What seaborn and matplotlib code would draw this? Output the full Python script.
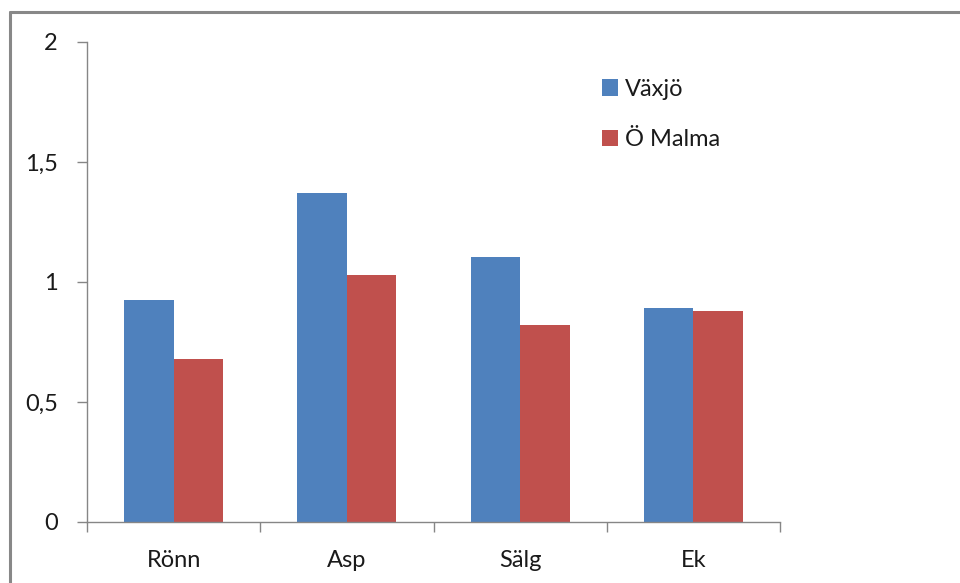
import matplotlib
matplotlib.use("Agg")
import matplotlib.pyplot as plt
import seaborn as sns
import pandas as pd
from matplotlib.lines import Line2D
from matplotlib.ticker import FuncFormatter

categories = ["Rönn", "Asp", "Sälg", "Ek"]
series_names = ["Växjö", "Ö Malma"]
vaxjo = [0.925, 1.37, 1.105, 0.89]
ostra_malma = [0.68, 1.03, 0.82, 0.88]
y_ticks = [0, 0.5, 1, 1.5, 2]
colors = ["#4F81BD", "#C0504D"]

df = pd.DataFrame({
    "Art": categories * 2,
    "Värde": vaxjo + ostra_malma,
    "Ort": [series_names[0]] * len(categories) + [series_names[1]] * len(categories),
})

sns.set_theme(style="white")
plt.rcParams["font.family"] = ["Lato", "DejaVu Sans"]

fig = plt.figure(figsize=(9.6, 5.83), dpi=100)
ax = fig.add_axes([87/960, 1 - 522/583, (780-87)/960, (522-42)/583])

sns.barplot(data=df, x="Art", y="Värde", hue="Ort", palette=colors,
            width=0.57, gap=0, saturation=1, ax=ax, errorbar=None, linewidth=0)

ax.set_xlim(-0.5, len(categories) - 0.5)
ax.set_ylim(0, 2)
ax.set_yticks(y_ticks)
ax.yaxis.set_major_formatter(FuncFormatter(lambda v, p: f"{v:g}".replace(".", ",")))
ax.set_xlabel("")
ax.set_ylabel("")

for s in ["top", "right"]:
    ax.spines[s].set_visible(False)
for s in ["left", "bottom"]:
    ax.spines[s].set_color("#868686")
    ax.spines[s].set_linewidth(1.0)

ax.tick_params(axis="y", direction="out", length=7, width=1, color="#868686",
               labelsize=17, pad=14, labelcolor="#1a1a1a", left=True)
ax.tick_params(axis="x", which="major", length=0, labelsize=17, pad=20, labelcolor="#1a1a1a")
ax.set_xticks([i - 0.5 for i in range(len(categories) + 1)], minor=True)
ax.tick_params(axis="x", which="minor", direction="out", length=7, width=1,
               color="#868686", bottom=True)

leg = ax.legend(loc="upper left", bbox_to_anchor=(590/960, 1 - 67/583),
                bbox_transform=fig.transFigure, frameon=False, fontsize=17,
                handlelength=0.7, handleheight=0.7, handletextpad=0.3,
                labelspacing=1.25, borderpad=0)
for t in leg.get_texts():
    t.set_color("#1a1a1a")
for h in leg.legend_handles:
    h.set_linewidth(0)

# outer chart frame (top and left edges visible)
fig.add_artist(Line2D([10/960, 10/960], [0, 1 - 12/583], transform=fig.transFigure,
                      color="#888888", linewidth=2.2))
fig.add_artist(Line2D([10/960, 1], [1 - 12/583, 1 - 12/583], transform=fig.transFigure,
                      color="#888888", linewidth=2.2))

fig.savefig("out.png", dpi=100, facecolor="white")
